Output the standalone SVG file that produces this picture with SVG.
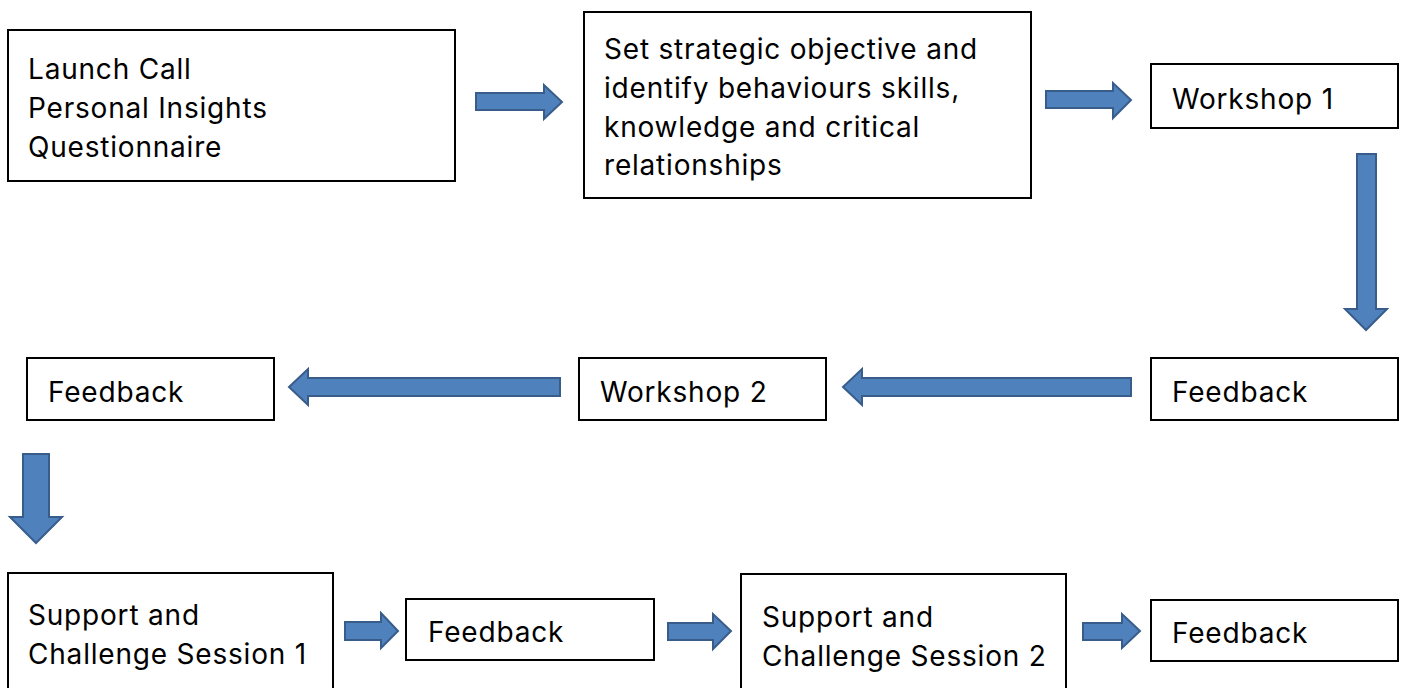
<svg xmlns="http://www.w3.org/2000/svg" width="1403" height="688" viewBox="0 0 1403 688">
<style>
.box{fill:#fff;stroke:#000;stroke-width:2}
.arr{fill:#4F81BD;stroke:#385D8A;stroke-width:2;stroke-linejoin:miter}
text{font-family:Inter,"Liberation Sans",sans-serif;font-size:28px;letter-spacing:0.8px;fill:#000}
</style>
<rect width="1403" height="688" fill="#fff"/>
<g id="connectors">
<polygon class="arr" points="476,93 544,93 544,85 562,102 544,119 544,110 476,110"/>
<polygon class="arr" points="1046,91 1113,91 1113,83 1131,100 1113,118 1113,108 1046,108"/>
<polygon class="arr" points="1357,154 1376,154 1376,309 1387,309 1366,330 1345,309 1357,309"/>
<polygon class="arr" points="1131,378 862,378 862,369 843,387 862,405 862,396 1131,396"/>
<polygon class="arr" points="560,378 308,378 308,369 289,387 308,405 308,396 560,396"/>
<polygon class="arr" points="23,454 49,454 49,517 62,517 36,543 10,517 23,517"/>
<polygon class="arr" points="345,622 381,622 381,613 398,631 381,648 381,640 345,640"/>
<polygon class="arr" points="668,623 713,623 713,614 731,631 713,649 713,640 668,640"/>
<polygon class="arr" points="1083,623 1122,623 1122,614 1140,631 1122,648 1122,640 1083,640"/>
</g>
<g id="n1"><rect class="box" x="8" y="30" width="447" height="151"/>
<text x="28" y="79">Launch Call</text><text x="28" y="118">Personal Insights</text><text x="28" y="157">Questionnaire</text></g>
<g id="n2"><rect class="box" x="584" y="12" width="447" height="186"/>
<text x="604" y="59">Set strategic objective and</text><text x="604" y="98">identify behaviours skills,</text><text x="604" y="137">knowledge and critical</text><text x="604" y="175">relationships</text></g>
<g id="n3"><rect class="box" x="1151" y="64" width="247" height="64"/><text x="1172" y="109">Workshop 1</text></g>
<g id="n4"><rect class="box" x="1151" y="358" width="247" height="62"/><text x="1172" y="402">Feedback</text></g>
<g id="n5"><rect class="box" x="579" y="358" width="247" height="62"/><text x="600" y="402">Workshop 2</text></g>
<g id="n6"><rect class="box" x="27" y="358" width="247" height="62"/><text x="48" y="402">Feedback</text></g>
<g id="n7"><rect class="box" x="8" y="573" width="325" height="125"/><text x="28" y="625">Support and</text><text x="28" y="664">Challenge Session 1</text></g>
<g id="n8"><rect class="box" x="406" y="599" width="248" height="61"/><text x="428" y="642">Feedback</text></g>
<g id="n9"><rect class="box" x="741" y="574" width="325" height="124"/><text x="762" y="627">Support and</text><text x="762" y="666">Challenge Session 2</text></g>
<g id="n10"><rect class="box" x="1151" y="600" width="247" height="61"/><text x="1172" y="643">Feedback</text></g>
</svg>
